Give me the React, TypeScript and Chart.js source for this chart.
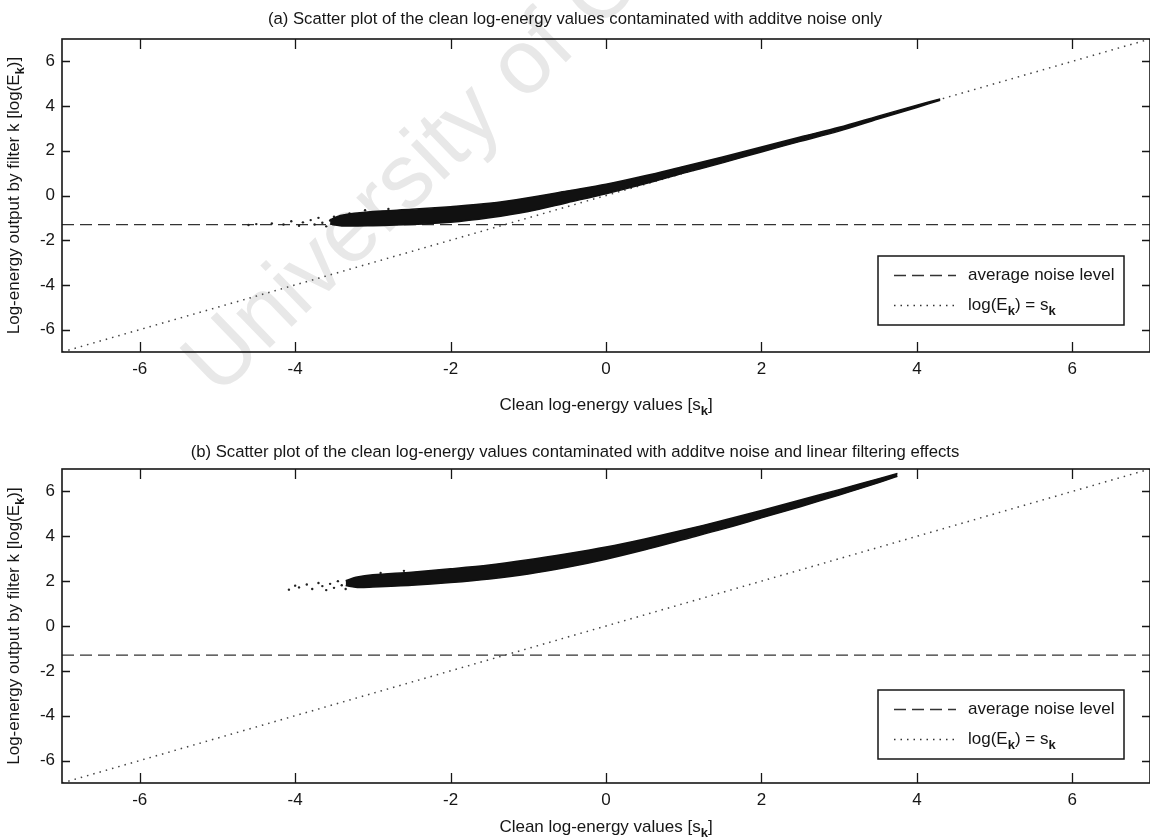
import React, { useEffect, useRef } from "react";
import { Chart, registerables } from "chart.js";
Chart.register(...registerables);

// ---------- data ----------
const X_TICKS = [-6, -4, -2, 0, 2, 4, 6];
const Y_TICKS = [-6, -4, -2, 0, 2, 4, 6];
const AXIS_MIN = -7;
const AXIS_MAX = 7;
const NOISE_LEVEL = -1.3;
const IDENTITY_X = [-7, 7];
const IDENTITY_Y = [-7, 7];

// (a) additive noise only: cloud read as upper/lower envelope
const A_S = [-3.55, -3.4, -3.0, -2.5, -2.0, -1.5, -1.0, -0.5, 0.0, 0.5, 1.0, 1.5, 2.0, 2.5, 3.0, 3.5, 4.0, 4.3];
const A_UPPER = [-1.08, -0.88, -0.72, -0.62, -0.5, -0.35, -0.1, 0.2, 0.5, 0.88, 1.3, 1.72, 2.17, 2.62, 3.05, 3.55, 4.04, 4.32];
const A_LOWER = [-1.28, -1.36, -1.35, -1.3, -1.2, -1.0, -0.72, -0.32, 0.08, 0.52, 1.0, 1.46, 1.95, 2.42, 2.88, 3.42, 3.94, 4.26];
const A_SPARSE_X = [-4.3, -4.15, -4.05, -3.95, -3.9, -3.8, -3.75, -3.7, -3.65, -3.6, -3.55, -3.5, -3.45, -3.42, -3.38, -4.5, -4.6, -3.3, -3.1, -2.8];
const A_SPARSE_Y = [-1.25, -1.3, -1.15, -1.35, -1.2, -1.1, -1.3, -1.0, -1.22, -1.38, -1.12, -0.95, -1.3, -1.05, -1.2, -1.28, -1.32, -0.8, -0.66, -0.6];

// (b) additive noise and linear filtering
const B_S = [-3.35, -3.2, -3.0, -2.5, -2.0, -1.5, -1.0, -0.5, 0.0, 0.5, 1.0, 1.5, 2.0, 2.5, 3.0, 3.5, 3.75];
const B_UPPER = [2.02, 2.18, 2.28, 2.4, 2.55, 2.72, 2.95, 3.22, 3.52, 3.88, 4.28, 4.7, 5.15, 5.62, 6.08, 6.56, 6.8];
const B_LOWER = [1.8, 1.72, 1.74, 1.82, 1.94, 2.1, 2.32, 2.62, 2.98, 3.4, 3.86, 4.32, 4.82, 5.32, 5.84, 6.38, 6.68];
const B_SPARSE_X = [-4.08, -4.0, -3.95, -3.85, -3.78, -3.7, -3.65, -3.6, -3.55, -3.5, -3.45, -3.4, -3.35, -3.3, -3.25, -2.9, -2.6];
const B_SPARSE_Y = [1.62, 1.8, 1.72, 1.85, 1.65, 1.92, 1.78, 1.6, 1.88, 1.7, 2.0, 1.82, 1.65, 1.95, 2.1, 2.36, 2.46];

const TITLE_A = "(a) Scatter plot of the clean log-energy values contaminated with additve noise only";
const TITLE_B = "(b) Scatter plot of the clean log-energy values contaminated with additve noise and linear filtering effects";
type Seg = [string, boolean];
const X_TITLE: Seg[] = [["Clean log-energy values [s", false], ["k", true], ["]", false]];
const Y_TITLE: Seg[] = [["Log-energy output by filter k [log(E", false], ["k", true], [")]", false]];
const LEGEND_NOISE: Seg[] = [["average noise level", false]];
const LEGEND_IDENTITY: Seg[] = [["log(E", false], ["k", true], [") = s", false], ["k", true]];
const WATERMARK = "University of Cape Town";

// ---------- drawing helpers ----------
const FONT_FAMILY = '"Liberation Sans", Arial, sans-serif';
const FS = 17;
const TITLE_FS = 16.7;
const INK = "#161616";
const PAGE_CENTER_X = 575;

function richWidth(ctx: CanvasRenderingContext2D, segs: Seg[], size: number) {
  let w = 0;
  for (const [t, sub] of segs) {
    ctx.font = `${sub ? "bold " + Math.round(size * 0.75) : size}px ${FONT_FAMILY}`;
    w += ctx.measureText(t).width;
  }
  return w;
}
function drawRich(ctx: CanvasRenderingContext2D, segs: Seg[], x: number, y: number, size: number, align: "left" | "center") {
  const total = richWidth(ctx, segs, size);
  let cx = align === "center" ? x - total / 2 : x;
  ctx.textAlign = "left";
  ctx.textBaseline = "middle";
  ctx.fillStyle = INK;
  for (const [t, sub] of segs) {
    ctx.font = `${sub ? "bold " + Math.round(size * 0.75) : size}px ${FONT_FAMILY}`;
    ctx.fillText(t, cx, sub ? y + size * 0.38 : y);
    cx += ctx.measureText(t).width;
  }
}

type PanelCfg = {
  title: string;
  titleY: number;
  xTitleY: number;
  legendGap: number;
  watermark: boolean;
};

function makePlugin(cfg: PanelCfg) {
  return {
    id: "matlabDecor",
    beforeDraw(chart: any) {
      if (!cfg.watermark) return;
      const ctx = chart.ctx as CanvasRenderingContext2D;
      ctx.save();
      ctx.translate(218, 398);
      ctx.rotate((-44 * Math.PI) / 180);
      ctx.font = `91px ${FONT_FAMILY}`;
      ctx.fillStyle = "#e8e8e8";
      ctx.textAlign = "left";
      ctx.textBaseline = "alphabetic";
      ctx.fillText(WATERMARK, 0, 0);
      ctx.restore();
    },
    afterDraw(chart: any) {
      const ctx = chart.ctx as CanvasRenderingContext2D;
      const ca = chart.chartArea;
      const xs = chart.scales.x;
      const ys = chart.scales.y;
      ctx.save();
      // box
      ctx.strokeStyle = INK;
      ctx.lineWidth = 1.6;
      ctx.setLineDash([]);
      ctx.strokeRect(ca.left, ca.top, ca.right - ca.left, ca.bottom - ca.top);
      // inward ticks
      ctx.lineWidth = 1.3;
      ctx.beginPath();
      for (const v of X_TICKS) {
        const px = Math.round(xs.getPixelForValue(v)) + 0.5;
        ctx.moveTo(px, ca.bottom);
        ctx.lineTo(px, ca.bottom - 10);
        ctx.moveTo(px, ca.top);
        ctx.lineTo(px, ca.top + 10);
      }
      for (const v of Y_TICKS) {
        const py = Math.round(ys.getPixelForValue(v)) + 0.5;
        ctx.moveTo(ca.left, py);
        ctx.lineTo(ca.left + 8, py);
        ctx.moveTo(ca.right, py);
        ctx.lineTo(ca.right - 8, py);
      }
      ctx.stroke();
      // title
      ctx.font = `${TITLE_FS}px ${FONT_FAMILY}`;
      ctx.fillStyle = INK;
      ctx.textAlign = "center";
      ctx.textBaseline = "middle";
      ctx.fillText(cfg.title, PAGE_CENTER_X, cfg.titleY);
      // x title
      drawRich(ctx, X_TITLE, (ca.left + ca.right) / 2, cfg.xTitleY, FS, "center");
      // y title
      ctx.save();
      ctx.translate(14, (ca.top + ca.bottom) / 2);
      ctx.rotate(-Math.PI / 2);
      drawRich(ctx, Y_TITLE, 0, 0, FS, "center");
      ctx.restore();
      // legend
      const bw = 246, bh = 69;
      const x0 = ca.right - 26 - bw;
      const y0 = ca.bottom - cfg.legendGap - bh;
      ctx.fillStyle = "#ffffff";
      ctx.fillRect(x0, y0, bw, bh);
      ctx.strokeStyle = INK;
      ctx.lineWidth = 1.5;
      ctx.strokeRect(x0, y0, bw, bh);
      const r1 = y0 + 19, r2 = y0 + 49;
      ctx.lineWidth = 1.3;
      ctx.strokeStyle = "#333";
      ctx.setLineDash([12, 6]);
      ctx.beginPath();
      ctx.moveTo(x0 + 16, r1 + 0.5);
      ctx.lineTo(x0 + 78, r1 + 0.5);
      ctx.stroke();
      ctx.setLineDash([1.5, 5]);
      ctx.beginPath();
      ctx.moveTo(x0 + 16, r2 + 0.5);
      ctx.lineTo(x0 + 78, r2 + 0.5);
      ctx.stroke();
      ctx.setLineDash([]);
      drawRich(ctx, LEGEND_NOISE, x0 + 90, r1, FS, "left");
      drawRich(ctx, LEGEND_IDENTITY, x0 + 90, r2, FS, "left");
      ctx.restore();
    },
  };
}

function buildChart(
  canvas: HTMLCanvasElement,
  s: number[],
  upper: number[],
  lower: number[],
  spx: number[],
  spy: number[],
  cfg: PanelCfg,
  xAxisHeight: number
) {
  const band = (arr: number[]) => s.map((v, i) => ({ x: v, y: arr[i] }));
  return new Chart(canvas, {
    type: "line",
    data: {
      datasets: [
        {
          data: band(upper),
          borderColor: "#111",
          borderWidth: 1.5,
          pointRadius: 0,
          fill: false,
          tension: 0.3,
        },
        {
          data: band(lower),
          borderColor: "#111",
          borderWidth: 1.5,
          backgroundColor: "#111",
          pointRadius: 0,
          fill: "-1",
          tension: 0.3,
        },
        {
          data: spx.map((v, i) => ({ x: v, y: spy[i] })),
          showLine: false,
          pointRadius: 1.2,
          pointBorderWidth: 0,
          pointBackgroundColor: "#222",
          fill: false,
        },
        {
          data: [
            { x: AXIS_MIN, y: NOISE_LEVEL },
            { x: AXIS_MAX, y: NOISE_LEVEL },
          ],
          borderColor: "#333",
          borderWidth: 1.3,
          borderDash: [12, 6],
          pointRadius: 0,
          fill: false,
        },
        {
          data: IDENTITY_X.map((v, i) => ({ x: v, y: IDENTITY_Y[i] })),
          borderColor: "#444",
          borderWidth: 1.5,
          borderDash: [1.5, 5],
          pointRadius: 0,
          fill: false,
        },
      ],
    } as any,
    options: {
      responsive: false,
      animation: false,
      events: [],
      layout: { padding: { top: 39, right: 1, left: 0, bottom: 0 } },
      plugins: { legend: { display: false }, tooltip: { enabled: false }, title: { display: false } },
      scales: {
        x: {
          type: "linear",
          min: AXIS_MIN,
          max: AXIS_MAX,
          grid: { display: false, drawTicks: false },
          border: { display: false },
          afterBuildTicks: (sc: any) => {
            sc.ticks = X_TICKS.map((v) => ({ value: v }));
          },
          afterFit: (sc: any) => {
            sc.height = xAxisHeight;
          },
          ticks: {
            padding: 7,
            color: INK,
            font: { family: FONT_FAMILY, size: FS },
            maxRotation: 0,
            autoSkip: false,
            callback: (v: any) => String(v),
          },
        },
        y: {
          type: "linear",
          min: AXIS_MIN,
          max: AXIS_MAX,
          grid: { display: false, drawTicks: false },
          border: { display: false },
          afterBuildTicks: (sc: any) => {
            sc.ticks = Y_TICKS.map((v) => ({ value: v }));
          },
          afterFit: (sc: any) => {
            sc.width = 62;
          },
          ticks: {
            padding: 7,
            color: INK,
            font: { family: FONT_FAMILY, size: FS },
            autoSkip: false,
            callback: (v: any) => String(v),
          },
        },
      },
    } as any,
    plugins: [makePlugin(cfg)],
  });
}

export default function App() {
  const refA = useRef<HTMLCanvasElement>(null);
  const refB = useRef<HTMLCanvasElement>(null);
  useEffect(() => {
    const a = buildChart(
      refA.current!,
      A_S,
      A_UPPER,
      A_LOWER,
      A_SPARSE_X,
      A_SPARSE_Y,
      { title: TITLE_A, titleY: 19, xTitleY: 405, legendGap: 27, watermark: true },
      78
    );
    const b = buildChart(
      refB.current!,
      B_S,
      B_UPPER,
      B_LOWER,
      B_SPARSE_X,
      B_SPARSE_Y,
      { title: TITLE_B, titleY: 22, xTitleY: 397, legendGap: 24, watermark: false },
      56
    );
    return () => {
      a.destroy();
      b.destroy();
    };
  }, []);
  return (
    <div style={{ position: "absolute", left: 0, top: 0, width: 1150, height: 839, overflow: "hidden", background: "#fff" }}>
      <canvas ref={refA} width={1154} height={430} style={{ position: "absolute", left: 0, top: 0, display: "block" }} />
      <canvas ref={refB} width={1154} height={409} style={{ position: "absolute", left: 0, top: 430, display: "block" }} />
    </div>
  );
}
